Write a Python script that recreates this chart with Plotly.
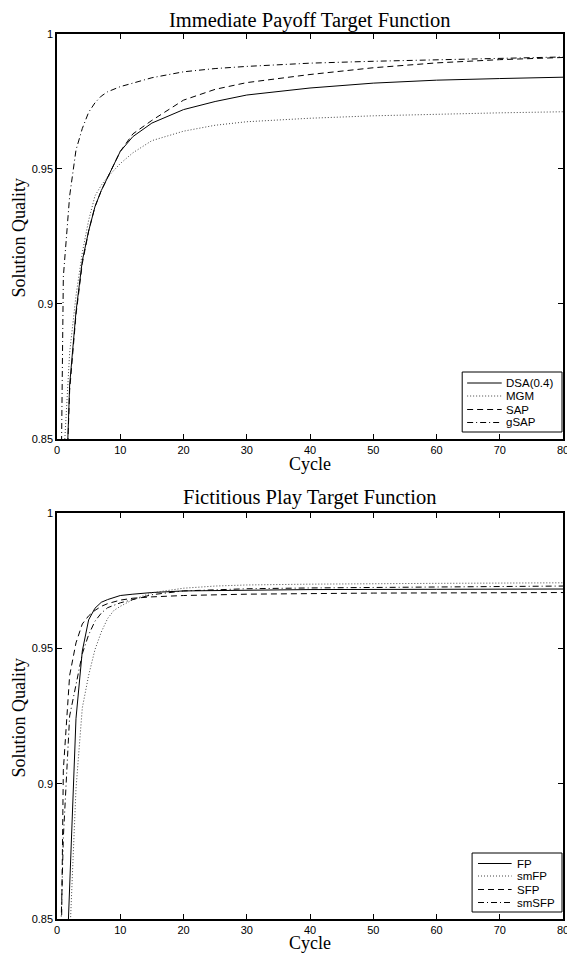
import plotly.graph_objects as go

# ---------------- data: Immediate Payoff Target Function ----------------
dsa_x = [1, 2, 3, 4, 5, 6, 7, 8, 9, 10, 12, 15, 20, 25, 30, 40, 50, 60, 70, 80]
dsa_y = [0.80, 0.870, 0.897, 0.916, 0.927, 0.936, 0.942, 0.947, 0.952, 0.9565, 0.962, 0.967,
         0.972, 0.975, 0.9774, 0.9800, 0.9818, 0.9829, 0.9835, 0.9840]

mgm_x = [1, 2, 3, 4, 5, 6, 7, 8, 9, 10, 12, 15, 20, 25, 30, 40, 50, 60, 70, 80]
mgm_y = [0.84, 0.882, 0.903, 0.919, 0.931, 0.940, 0.944, 0.947, 0.9495, 0.952, 0.956, 0.9605,
         0.964, 0.9662, 0.9675, 0.9688, 0.9697, 0.9703, 0.9708, 0.9712]

sap_x = [1, 2, 3, 4, 5, 6, 7, 8, 9, 10, 12, 15, 20, 25, 30, 40, 50, 60, 70, 80]
sap_y = [0.80, 0.868, 0.896, 0.915, 0.927, 0.936, 0.942, 0.947, 0.952, 0.9565, 0.963, 0.968,
         0.9755, 0.9795, 0.9820, 0.9850, 0.9875, 0.9893, 0.9905, 0.9913]

gsap_x = [0, 1, 2, 3, 4, 5, 6, 7, 8, 9, 10, 12, 15, 20, 25, 30, 40, 50, 60, 70, 80]
gsap_y = [0.69, 0.91, 0.940, 0.957, 0.965, 0.971, 0.9745, 0.977, 0.9786, 0.9797, 0.9805, 0.9818,
          0.9838, 0.9860, 0.9872, 0.9880, 0.9892, 0.9899, 0.9905, 0.9910, 0.9915]

# ---------------- data: Fictitious Play Target Function ----------------
fp_x = [1, 2, 3, 4, 5, 6, 7, 8, 10, 12, 15, 20, 30, 40, 60, 80]
fp_y = [0.80, 0.862, 0.924, 0.949, 0.9605, 0.9648, 0.967, 0.968, 0.9695, 0.970, 0.9706,
        0.9712, 0.9715, 0.9717, 0.9718, 0.9719]

smfp_x = [1, 2, 3, 4, 5, 6, 7, 8, 9, 10, 12, 15, 20, 25, 30, 40, 60, 80]
smfp_y = [0.70, 0.842, 0.898, 0.928, 0.940, 0.9495, 0.956, 0.961, 0.964, 0.9655, 0.968, 0.9705,
          0.9722, 0.9730, 0.9734, 0.9737, 0.9740, 0.9742]

sfp_x = [0, 1, 2, 3, 4, 5, 6, 7, 8, 10, 12, 15, 20, 30, 50, 80]
sfp_y = [0.70, 0.905, 0.940, 0.952, 0.959, 0.962, 0.964, 0.9655, 0.9665, 0.9678, 0.9685,
         0.969, 0.9695, 0.970, 0.9704, 0.9706]

smsfp_x = [0, 1, 2, 3, 4, 5, 6, 7, 8, 10, 12, 15, 20, 30, 40, 60, 80]
smsfp_y = [0.79, 0.88, 0.925, 0.937, 0.948, 0.955, 0.960, 0.963, 0.965, 0.9668, 0.968, 0.9698,
           0.9712, 0.9720, 0.9723, 0.9727, 0.9730]

x_ticks = [0, 10, 20, 30, 40, 50, 60, 70, 80]
y_ticks = [0.85, 0.9, 0.95, 1]
y_tick_text = ["0.85", "0.9", "0.95", "1"]

top_names = ["DSA(0.4)", "MGM", "SAP", "gSAP"]
bottom_names = ["FP", "smFP", "SFP", "smSFP"]

SOLID = "solid"
DOT = "1px,2px"
DASH = "6px,4px"
DASHDOT = "6px,3px,1px,3px"
styles = [(SOLID, "black"), (DOT, "#444444"), (DASH, "black"), (DASHDOT, "black")]

fig = go.Figure()

def add(x, y, name, style, xa, ya):
    dash, color = style
    fig.add_trace(go.Scatter(x=x, y=y, name=name, mode="lines",
                             line=dict(color=color, width=1, dash=dash),
                             xaxis=xa, yaxis=ya, showlegend=False))

top_series = [(dsa_x, dsa_y), (mgm_x, mgm_y), (sap_x, sap_y), (gsap_x, gsap_y)]
bot_series = [(fp_x, fp_y), (smfp_x, smfp_y), (sfp_x, sfp_y), (smsfp_x, smsfp_y)]
for (x, y), n, s in zip(top_series, top_names, styles):
    add(x, y, n, s, "x", "y")
for (x, y), n, s in zip(bot_series, bottom_names, styles):
    add(x, y, n, s, "x2", "y2")

tickfont = dict(family="Liberation Sans, Arial, sans-serif", size=11, color="black")
axis_common = dict(showline=True, linecolor="black", linewidth=1.5, mirror="ticks",
                   ticks="inside", ticklen=5, tickcolor="black", tickwidth=1,
                   showgrid=False, zeroline=False, tickfont=tickfont)

top_dom = [0.5424, 1.0]
bot_dom = [0.0, 0.4588]

# The page body adds an 8px offset; the figure is sized so the plot lands where it should.
fig.update_layout(
    width=567, height=945,
    margin=dict(l=49, r=6, t=26, b=34),
    paper_bgcolor="white", plot_bgcolor="white",
    xaxis=dict(range=[0, 80], tickvals=x_ticks, domain=[0, 1], anchor="y",
               ticklabeloverflow="allow", **axis_common),
    yaxis=dict(range=[0.85, 1], tickvals=y_ticks, ticktext=y_tick_text, domain=top_dom,
               anchor="x", **axis_common),
    xaxis2=dict(range=[0, 80], tickvals=x_ticks, domain=[0, 1], anchor="y2",
                ticklabeloverflow="allow", **axis_common),
    yaxis2=dict(range=[0.85, 1], tickvals=y_ticks, ticktext=y_tick_text, domain=bot_dom,
                anchor="x2", **axis_common),
    showlegend=False,
)

serif = "Liberation Serif, Times New Roman, serif"
sans = "Liberation Sans, Arial, sans-serif"
H = 885.0

def py(p):
    return (919 - p) / H

def px(p):
    return (p - 57) / 512.0

ann = [
    ("Immediate Payoff Target Function", 0.5, py(8), 20.5, 0, "top"),
    ("Fictitious Play Target Function", 0.5, py(497), 20.5, 0, "middle"),
    ("Cycle", 0.5, py(464), 18, 0, "middle"),
    ("Cycle", 0.5, py(943), 18, 0, "middle"),
    ("Solution Quality", px(19), py(237), 18, -90, "middle"),
    ("Solution Quality", px(19), py(717), 18, -90, "middle"),
]
for text, x, y, size, ang, ya in ann:
    fig.add_annotation(text=text, x=x, y=y, xref="paper", yref="paper",
                       xanchor="center", yanchor=ya, showarrow=False, borderpad=0,
                       textangle=ang, font=dict(family=serif, size=size, color="black"))

# ---- legends (box, line samples, labels) ----
def legend(names, box, rows, line_x0, line_x1, text_x):
    x0, y0, x1, y1 = box
    fig.add_shape(type="rect", xref="paper", yref="paper",
                  x0=px(x0), x1=px(x1), y0=py(y1), y1=py(y0),
                  line=dict(color="black", width=1), fillcolor="white", layer="above")
    for name, (dash, color), r in zip(names, styles, rows):
        fig.add_shape(type="line", xref="paper", yref="paper",
                      x0=px(line_x0), x1=px(line_x1), y0=py(r), y1=py(r),
                      line=dict(color=color, width=1, dash=dash), layer="above")
        fig.add_annotation(text=name, x=px(text_x), y=py(r), xref="paper", yref="paper",
                           xanchor="left", yanchor="middle", showarrow=False,
                           font=dict(family=sans, size=11.5, color="black"))

legend(top_names, (467, 372, 568, 432), [383, 396, 409.5, 422.5], 472, 507, 509)
legend(bottom_names, (477, 853, 568, 912), [863.5, 876, 889.5, 902.5], 483, 517, 520)

fig.write_html("out.html")
